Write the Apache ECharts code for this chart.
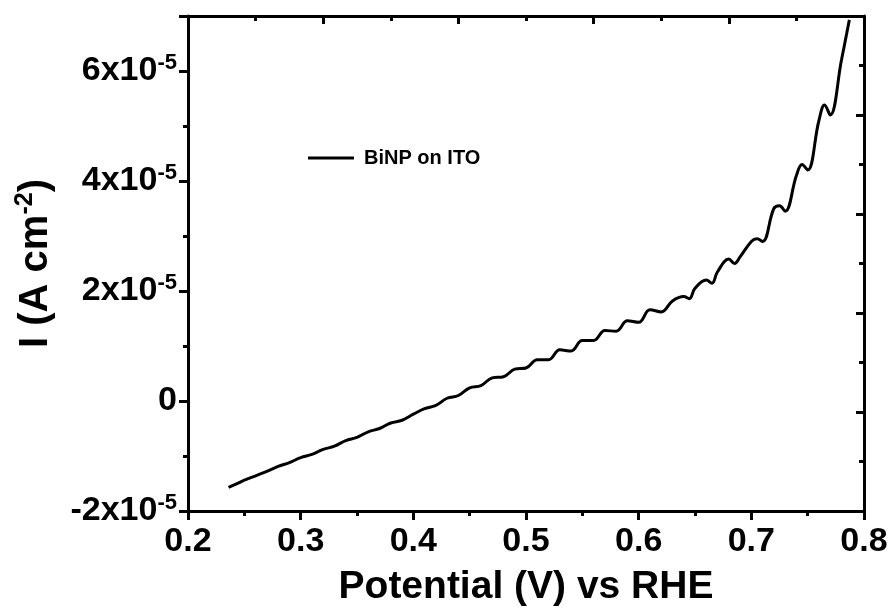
<!DOCTYPE html>
<html><head><meta charset="utf-8">
<script src="https://cdn.jsdelivr.net/npm/echarts@6/dist/echarts.min.js"></script>
<style>html,body{margin:0;padding:0;background:#fff}#c{width:895px;height:612px}</style>
</head><body><div id="c"></div>
<script>
// Potential (V) vs RHE
const potential = [0.236,0.245,0.25,0.26,0.27,0.28,0.29,0.30,0.31,0.32,0.33,0.34,0.35,0.36,0.37,0.38,0.39,0.40,0.41,0.42,0.43,0.44,0.45,0.46,0.47,0.48,0.49,0.50,0.51,0.52,0.53,0.54,0.55,0.56,0.57,0.58,0.59,0.60,0.61,0.62,0.63,0.64,0.645,0.65,0.66,0.665,0.67,0.68,0.685,0.69,0.70,0.705,0.71,0.72,0.725,0.73,0.74,0.745,0.75,0.76,0.765,0.77,0.78,0.787];
// current in units of 1e-5 A cm^-2
const current = [-1.57,-1.49,-1.44,-1.36,-1.28,-1.19,-1.12,-1.03,-0.97,-0.88,-0.82,-0.72,-0.66,-0.56,-0.50,-0.40,-0.35,-0.24,-0.14,-0.08,0.05,0.10,0.24,0.28,0.42,0.44,0.58,0.60,0.75,0.75,0.93,0.91,1.10,1.10,1.28,1.27,1.46,1.43,1.66,1.62,1.82,1.90,1.86,2.05,2.20,2.14,2.35,2.58,2.50,2.62,2.90,2.95,2.90,3.50,3.55,3.45,4.10,4.30,4.20,5.10,5.38,5.20,6.20,6.93];
const yTickLabels = {'-2': '-2x10', '0': '0', '2': '2x10', '4': '4x10', '6': '6x10'};
const seriesName = 'BiNP on ITO';

const data = potential.map((p, i) => [p, current[i] * 1e-5]);
const chart = echarts.init(document.getElementById('c'));
const F = 'Liberation Sans, Arial, sans-serif';
const axisLine = {show: true, onZero: false, lineStyle: {color: '#000', width: 3}};
chart.setOption({
  animation: false,
  grid: {left: 188, right: 31, top: 16, bottom: 98, containLabel: false},
  legend: {
    left: 303, top: 143, itemWidth: 46, itemHeight: 3, itemGap: 10, icon: 'rect',
    data: [seriesName],
    textStyle: {fontFamily: F, fontWeight: 'bold', fontSize: 20, color: '#000', padding: [0, 0, 0, 5]}
  },
  xAxis: [{
    type: 'value', min: 0.2, max: 0.8, interval: 0.1, position: 'bottom',
    name: 'Potential (V) vs RHE', nameLocation: 'middle', nameGap: 57,
    nameTextStyle: {fontFamily: F, fontWeight: 'bold', fontSize: 39, color: '#000'},
    axisLine: axisLine,
    axisTick: {show: true, inside: false, length: 9, lineStyle: {width: 3, color: '#000'}},
    minorTick: {show: true, splitNumber: 2, length: 5, lineStyle: {width: 3, color: '#000'}},
    splitLine: {show: false},
    axisLabel: {fontFamily: F, fontWeight: 'bold', fontSize: 34, color: '#000', margin: 14,
      formatter: v => v.toFixed(1)}
  }, {
    type: 'value', min: 0, max: 10, interval: 2, position: 'top',
    axisLine: axisLine,
    axisTick: {show: true, inside: true, length: 8, lineStyle: {width: 3, color: '#000'}},
    minorTick: {show: true, splitNumber: 2, length: 5, lineStyle: {width: 3, color: '#000'}},
    axisLabel: {show: false}, splitLine: {show: false}
  }],
  yAxis: [{
    type: 'value', min: -2e-5, max: 7e-5, interval: 2e-5, position: 'left',
    name: '{b|I (A cm}{s|-2}{b|)}', nameLocation: 'middle', nameGap: 130, nameRotate: 90,
    nameTextStyle: {rich: {
      b: {fontFamily: F, fontWeight: 'bold', fontSize: 40, color: '#000', lineHeight: 44},
      s: {fontFamily: F, fontWeight: 'bold', fontSize: 25, color: '#000', verticalAlign: 'bottom', padding: [0, 0, 20, 0]}
    }},
    axisLine: axisLine,
    axisTick: {show: true, inside: false, length: 9, lineStyle: {width: 3, color: '#000'}},
    minorTick: {show: true, splitNumber: 2, length: 5, lineStyle: {width: 3, color: '#000'}},
    splitLine: {show: false},
    axisLabel: {margin: 11,
      formatter: v => {
        const k = String(Math.round(v * 1e5));
        if (!(k in yTickLabels)) return '';
        if (k === '0') return '{b|0}';
        return '{b|' + yTickLabels[k] + '}{s|-5}';
      },
      rich: {
        b: {fontFamily: F, fontWeight: 'bold', fontSize: 34, color: '#000', lineHeight: 38},
        s: {fontFamily: F, fontWeight: 'bold', fontSize: 22, color: '#000', verticalAlign: 'bottom', padding: [0, 0, 17, 0]}
      }
    }
  }, {
    type: 'value', min: 0, max: 10, interval: 2, position: 'right',
    axisLine: axisLine,
    axisTick: {show: true, inside: true, length: 8, lineStyle: {width: 3, color: '#000'}},
    minorTick: {show: true, splitNumber: 2, length: 5, lineStyle: {width: 3, color: '#000'}},
    axisLabel: {show: false}, splitLine: {show: false}
  }],
  series: [{
    name: seriesName, type: 'line', xAxisIndex: 0, yAxisIndex: 0,
    data: data, symbol: 'none', smooth: 0.4,
    lineStyle: {color: '#000', width: 3}, itemStyle: {color: '#000'}
  }]
});
</script></body></html>
